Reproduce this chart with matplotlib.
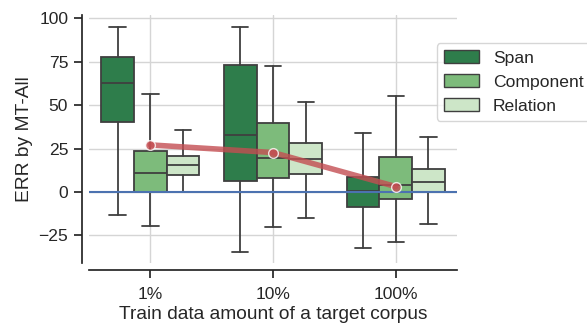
import numpy as np
import matplotlib
matplotlib.use("Agg")
import matplotlib.pyplot as plt
from matplotlib.patches import Patch
import seaborn as sns

# 数据：箱线图五数概括
groups = ["1%", "10%", "100%"]
hues = ["Span", "Component", "Relation"]
hue_colors = ["#2e7d4b", "#7dbb7b", "#cde6c8"]

# 每个 hue 一行，每个 group 一列
whislo = [[-13.3, -34.8, -32.3],
          [-19.8, -20.2, -28.6],
          [0.0, -15.2, -18.6]]
q1 = [[40.4, 6.3, -8.4],
      [0.0, 7.9, -3.8],
      [9.8, 10.4, 0.0]]
med = [[62.7, 32.7, 0.5],
       [10.8, 19.8, 3.9],
       [15.4, 19.0, 6.0]]
q3 = [[77.5, 73.2, 8.7],
      [23.3, 40.0, 20.2],
      [20.8, 28.1, 13.3]]
whishi = [[95.2, 95.2, 34.2],
          [56.7, 72.3, 55.4],
          [35.6, 51.9, 31.9]]

# 平均线（红色）
mean_err = [27.1, 22.7, 3.1]

sns.set_theme(style="ticks")
plt.rcParams["font.family"] = ["Liberation Sans", "DejaVu Sans"]

fig = plt.figure(figsize=(5.87, 3.24), dpi=100)
ax = fig.add_axes([0.1516, 0.188, 0.627, 0.766])

box_w = 0.8 / len(hues)
x_base = np.arange(len(groups))
edge = "#3f3f3f"

for h in range(len(hues)):
    stats = []
    for g in range(len(groups)):
        stats.append(dict(whislo=whislo[h][g], q1=q1[h][g], med=med[h][g],
                          q3=q3[h][g], whishi=whishi[h][g], fliers=[]))
    pos = x_base - 0.4 + box_w * (h + 0.5)
    ax.bxp(stats, positions=pos, widths=box_w, patch_artist=True,
           showfliers=False, manage_ticks=False,
           boxprops=dict(facecolor=hue_colors[h], edgecolor=edge, linewidth=1.3),
           medianprops=dict(color=edge, linewidth=1.3),
           whiskerprops=dict(color=edge, linewidth=1.3),
           capprops=dict(color=edge, linewidth=1.3),
           capwidths=box_w * 0.5)

ax.axhline(0, color="#4c72b0", linewidth=1.5, zorder=3)
ax.plot(x_base, mean_err, color="#c44e52", alpha=0.8, linewidth=4,
        marker="o", markersize=7, markeredgecolor="white",
        markeredgewidth=1, zorder=4)

ax.set_xlim(-0.5, 2.5)
ax.set_ylim(-41, 102)
ax.set_xticks(x_base)
ax.set_xticklabels(groups)
ax.set_yticks([-25, 0, 25, 50, 75, 100])
ax.tick_params(labelsize=12.6, pad=4)
ax.tick_params(axis="x", pad=6)
ax.grid(True, color="#d5d5d5", linewidth=1)
ax.set_axisbelow(True)
ax.set_xlabel("Train data amount of a target corpus", fontsize=13.8, labelpad=3)
ax.set_ylabel("ERR by MT-All", fontsize=13.8, labelpad=4)
sns.despine(ax=ax, offset=5)

handles = [Patch(facecolor=c, edgecolor=edge, linewidth=1) for c in hue_colors]
ax.legend(handles, hues, loc="upper left", bbox_to_anchor=(0.945, 0.885),
          fontsize=12.6, frameon=True, borderaxespad=0, labelspacing=0.5)

fig.savefig("out.png", dpi=100)
